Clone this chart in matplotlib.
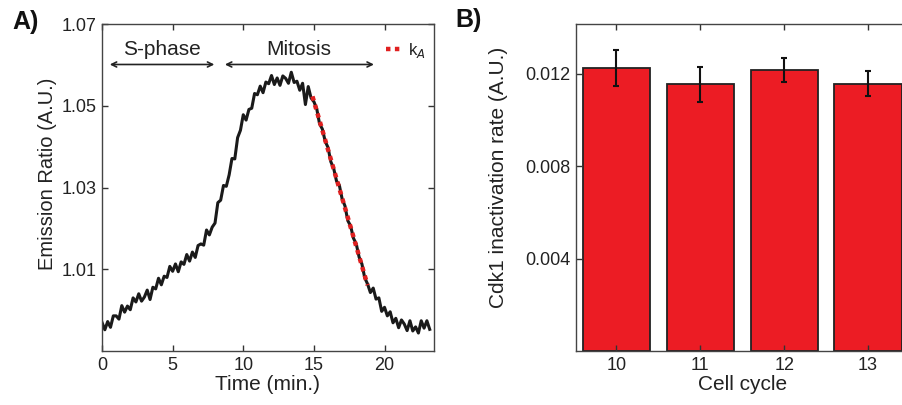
import matplotlib
matplotlib.use('Agg')
import matplotlib.pyplot as plt
import numpy as np

plt.rcParams['font.family'] = ['Liberation Sans', 'DejaVu Sans']

# panel A: emission ratio trace, sampled every 0.2 min
ratio = [0.9970, 0.9952, 0.9972, 0.9958, 0.9986, 0.9986, 0.9978, 1.0011, 0.9995, 1.0010,
         1.0001, 1.0030, 1.0020, 1.0040, 1.0022, 1.0032, 1.0049, 1.0026, 1.0056, 1.0052,
         1.0078, 1.0062, 1.0083, 1.0080, 1.0107, 1.0095, 1.0113, 1.0094, 1.0118, 1.0112,
         1.0136, 1.0120, 1.0142, 1.0129, 1.0158, 1.0162, 1.0159, 1.0196, 1.0184, 1.0203,
         1.0213, 1.0263, 1.0269, 1.0305, 1.0303, 1.0331, 1.0371, 1.0370, 1.0422, 1.0440,
         1.0478, 1.0465, 1.0491, 1.0494, 1.0530, 1.0527, 1.0548, 1.0532, 1.0558, 1.0554,
         1.0574, 1.0552, 1.0568, 1.0550, 1.0573, 1.0567, 1.0555, 1.0582, 1.0557, 1.0560,
         1.0538, 1.0555, 1.0503, 1.0547, 1.0519, 1.0510, 1.0493, 1.0456, 1.0443, 1.0413,
         1.0398, 1.0363, 1.0347, 1.0316, 1.0306, 1.0272, 1.0255, 1.0219, 1.0206, 1.0176,
         1.0162, 1.0130, 1.0113, 1.0079, 1.0064, 1.0043, 1.0054, 1.0027, 1.0030, 0.9997,
         1.0007, 0.9986, 0.9996, 0.9969, 0.9980, 0.9957, 0.9976, 0.9966, 0.9950, 0.9974,
         0.9949, 0.9959, 0.9944, 0.9974, 0.9956, 0.9974, 0.9953]
time = np.arange(len(ratio)) * 0.2

kA_time = [14.9, 18.8]
kA_ratio = [1.0523, 1.0061]

# panel B: inactivation rates
cycles = [10, 11, 12, 13]
rates = [0.01225, 0.01153, 0.01215, 0.01156]
errs = [0.00078, 0.00075, 0.00050, 0.00054]

txt = '#222222'

fig = plt.figure(figsize=(9.02, 4.05), dpi=100)
axA = fig.add_axes([0.1131, 0.1333, 0.368, 0.8074])
axB = fig.add_axes([0.6386, 0.1333, 0.3703, 0.8074])

axA.plot(time, ratio, color='#1a1a1a', lw=2.2)
axA.plot(kA_time, kA_ratio, color='#e02020', lw=3.2, ls=(0, (1, 1)),
         dash_capstyle='butt', label='k$_A$')
axA.set_xlim(0, 23.5)
axA.set_ylim(0.99, 1.07)
axA.set_xticks([0, 5, 10, 15, 20])
axA.set_yticks([1.01, 1.03, 1.05, 1.07])
axA.set_yticklabels(['1.01', '1.03', '1.05', '1.07'])
axA.set_xlabel('Time (min.)', fontsize=15, color=txt, labelpad=1)
axA.set_ylabel('Emission Ratio (A.U.)', fontsize=14.5, color=txt)
axA.yaxis.set_label_coords(-0.135, 0.541)
axA.legend(loc='upper right', bbox_to_anchor=(1.01, 0.985), frameon=False,
           handlelength=0.8, handletextpad=0.5, fontsize=12, borderaxespad=0.3,
           labelcolor=txt)

# phase arrows
axA.annotate('', xy=(0.55, 1.0601), xytext=(7.95, 1.0601),
             arrowprops=dict(arrowstyle='<->', color='#222222', lw=1.2,
                             shrinkA=0, shrinkB=0, mutation_scale=9))
axA.annotate('', xy=(8.7, 1.0601), xytext=(19.25, 1.0601),
             arrowprops=dict(arrowstyle='<->', color='#222222', lw=1.2,
                             shrinkA=0, shrinkB=0, mutation_scale=9))
axA.text(4.25, 1.0637, 'S-phase', ha='center', va='center', fontsize=15, color=txt)
axA.text(13.95, 1.0637, 'Mitosis', ha='center', va='center', fontsize=15, color=txt)

axB.bar(cycles, rates, width=0.8, color='#ec1c24', edgecolor='#222222', lw=1.3,
        yerr=errs, error_kw=dict(ecolor='#111111', elinewidth=1.5, capsize=2.5, capthick=1.5))
axB.set_xlim(9.52, 13.5)
axB.set_ylim(0, 0.01414)
axB.set_xticks(cycles)
axB.set_yticks([0.004, 0.008, 0.012])
axB.set_yticklabels(['0.004', '0.008', '0.012'])
axB.set_xlabel('Cell cycle', fontsize=15, color=txt, labelpad=1)
axB.set_ylabel('Cdk1 inactivation rate (A.U.)', fontsize=15, color=txt)
axB.yaxis.set_label_coords(-0.2036, 0.53)

for ax in (axA, axB):
    ax.tick_params(direction='in', top=True, right=True, length=4, width=1,
                   labelsize=13, colors='#333333', labelcolor=txt, pad=4)
    for s in ax.spines.values():
        s.set_color('#444444')
        s.set_linewidth(1.0)

fig.text(12 / 902, 1 - 22 / 405, 'A)', fontsize=18, fontweight='bold', va='center', color='#111111')
fig.text(455 / 902, 1 - 20 / 405, 'B)', fontsize=18, fontweight='bold', va='center', color='#111111')

fig.savefig('out.png', dpi=100)
